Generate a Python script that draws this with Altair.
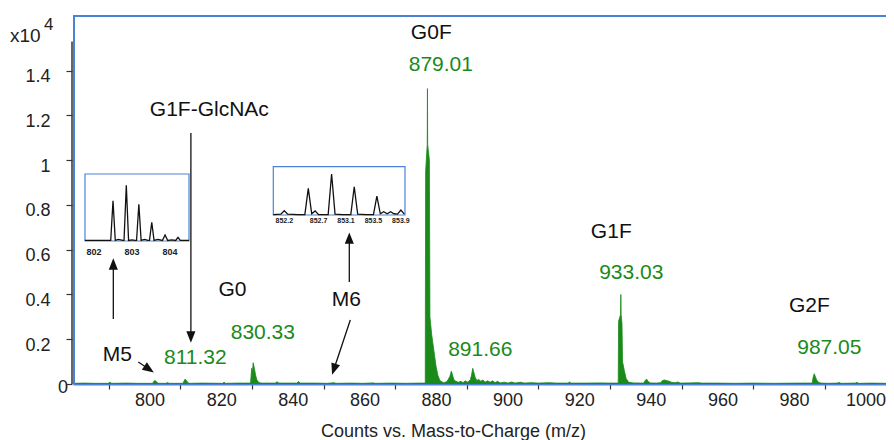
import altair as alt
import pandas as pd

# ---------------- data ----------------
mz = [780.0, 783.0, 786.0, 789.8, 790.3, 790.8, 795.0, 798.0, 802.3, 802.5, 802.84, 803.17, 803.5, 803.9,
      806.0, 806.4, 806.8, 810.7, 810.98, 811.32, 811.65, 812.0, 812.4, 816.0, 821.8, 822.2, 822.6, 826.0,
      829.6, 829.9, 830.1, 830.33, 830.66, 831.0, 831.33, 831.8, 832.5, 836.5, 837.0, 837.5, 842.5, 843.0,
      843.5, 848.0, 851.0, 853.0, 853.4, 858.0, 861.0, 864.0, 864.4, 869.0, 873.0, 876.5, 878.4, 878.5,
      878.95, 879.01, 879.07, 879.55, 879.7, 880.2, 880.8, 881.4, 881.9, 882.5, 883.5, 884.4, 884.8, 885.3,
      885.7, 886.0, 886.4, 886.9, 887.6, 888.4, 888.9, 889.6, 890.1, 890.6, 891.0, 891.33, 891.66, 892.0,
      892.33, 892.8, 893.4, 893.9, 894.5, 895.1, 895.8, 896.5, 897.2, 897.9, 898.6, 899.3, 900.5, 901.5,
      902.5, 903.5, 905.0, 906.0, 908.0, 910.0, 913.0, 915.0, 918.3, 918.7, 919.1, 923.0, 927.0, 930.0,
      932.3, 932.4, 932.95, 933.03, 933.1, 933.35, 933.5, 934.0, 934.5, 935.2, 936.5, 939.4, 939.8, 940.2,
      940.6, 941.2, 943.0, 944.2, 944.6, 945.2, 945.9, 946.6, 947.3, 948.2, 949.0, 949.6, 952.0, 955.0,
      955.5, 960.0, 965.0, 970.0, 976.0, 982.0, 986.5, 986.72, 987.05, 987.38, 987.72, 988.2, 988.9, 991.0,
      993.5, 994.0, 994.5, 998.5, 999.0, 999.5, 1003.0, 1007.1]
intensity = [0.003, 0.004, 0.003, 0.003, 0.008, 0.003, 0.004, 0.003, 0.003, 0.010, 0.016, 0.012, 0.007, 0.003,
             0.003, 0.007, 0.003, 0.003, 0.012, 0.022, 0.016, 0.008, 0.003, 0.004, 0.003, 0.008, 0.003, 0.004,
             0.004, 0.07, 0.05, 0.095, 0.07, 0.04, 0.02, 0.008, 0.004, 0.004, 0.010, 0.004, 0.004, 0.011,
             0.004, 0.004, 0.003, 0.006, 0.003, 0.004, 0.003, 0.005, 0.003, 0.004, 0.003, 0.004, 0.004, 0.95,
             1.07, 1.32, 1.07, 1.0, 0.30, 0.22, 0.15, 0.08, 0.04, 0.015, 0.006, 0.01, 0.02, 0.035,
             0.058, 0.04, 0.02, 0.012, 0.008, 0.012, 0.006, 0.014, 0.008, 0.012, 0.02, 0.04, 0.07, 0.05,
             0.03, 0.016, 0.02, 0.012, 0.018, 0.008, 0.014, 0.008, 0.014, 0.006, 0.012, 0.005, 0.008, 0.004,
             0.009, 0.004, 0.008, 0.004, 0.006, 0.004, 0.006, 0.004, 0.004, 0.009, 0.004, 0.004, 0.005, 0.004,
             0.004, 0.28, 0.31, 0.40, 0.31, 0.27, 0.10, 0.06, 0.025, 0.008, 0.005, 0.004, 0.015, 0.022,
             0.012, 0.005, 0.004, 0.006, 0.015, 0.018, 0.015, 0.012, 0.007, 0.006, 0.009, 0.004, 0.005, 0.006,
             0.004, 0.004, 0.003, 0.004, 0.003, 0.004, 0.004, 0.028, 0.046, 0.032, 0.018, 0.008, 0.004, 0.003,
             0.004, 0.007, 0.003, 0.004, 0.007, 0.003, 0.004, 0.003]

x_ticks = list(range(790, 1001, 10))
x_labels = [str(v) if v % 20 == 0 else "" for v in x_ticks]
y_ticks = [0.0, 0.1, 0.2, 0.3, 0.4, 0.5, 0.6, 0.7, 0.8, 0.9, 1.0, 1.1, 1.2, 1.3, 1.4, 1.5]

# inset M5 (m/z 802-804, relative intensity)
inset1_mz = [801.76, 802.30, 802.44, 802.50, 802.56, 802.64, 802.76, 802.79, 802.85, 802.91, 803.00, 803.08,
             803.12, 803.18, 803.24, 803.33, 803.42, 803.46, 803.52, 803.58, 803.68, 803.80, 803.87, 803.94,
             804.05, 804.15, 804.21, 804.27, 804.50]
inset1_int = [1, 1, 1, 72.4, 1, 3, 1, 1, 100, 1, 2, 1, 1, 65.9, 1, 3, 1, 1, 33.6, 1, 3, 1, 10.8, 1,
              2, 1, 6.6, 1, 1]
inset1_ticks = [802, 803, 804]

# inset M6
inset2_mz = [852.04, 852.15, 852.20, 852.25, 852.40, 852.50, 852.55, 852.60, 852.65, 852.70, 852.84, 852.89,
             852.94, 853.05, 853.17, 853.22, 853.27, 853.40, 853.50, 853.55, 853.60, 853.65, 853.70, 853.75,
             853.80, 853.85, 853.90, 853.95]
inset2_int = [1, 2, 10.5, 2, 1, 1, 65, 3, 10, 1, 1, 100, 2, 1, 1, 69, 2, 1, 1, 46, 3, 8, 3, 8,
              3, 2, 12, 2]
inset2_ticks = [852.2, 852.7, 853.1, 853.5, 853.9]

# annotations (m/z, intensity x1e4)
label_text = ["G0F", "879.01", "G1F-GlcNAc", "G1F", "933.03", "G2F", "987.05", "G0", "830.33",
              "M6", "M5", "811.32", "891.66"]
label_mz = [880.08, 882.74, 818.07, 930.36, 935.95, 985.67, 991.26, 824.55, 833.02,
            856.34, 792.4, 814.16, 893.77]
label_int = [1.568, 1.425, 1.224, 0.679, 0.496, 0.349, 0.161, 0.420, 0.230,
             0.375, 0.130, 0.116, 0.152]
label_green = [False, True, False, False, True, False, True, False, True,
               False, False, True, True]

arrow_mz = [812.93, 791.26, 857.18, 857.46, 798.24]
arrow_int = [1.1215, 0.290, 0.456, 0.286, 0.098]
arrow_mz2 = [812.93, 791.26, 857.18, 852.88, 801.26]
arrow_int2 = [0.210, 0.536, 0.652, 0.066, 0.066]
arrow_angle = [180, 0, 0, 198.4, 123.7]

# ---------------- styling ----------------
GREEN = "#1a8a1a"
BLUE = "#4a82d8"
FONT = "Liberation Sans"
W, H = 813, 369
PXU_X, PXU_Y = 3.58, 223.8
XDOM = [780.0, 780.0 + W / PXU_X]
YDOM = [0.0, H / PXU_Y]

xs = alt.Scale(domain=XDOM, nice=False, zero=False)
ys = alt.Scale(domain=YDOM, nice=False, zero=False)

one = pd.DataFrame({"k": [0]})
spec_df = pd.DataFrame({"mz": mz, "I": intensity})
lab_df = pd.DataFrame({"mz": label_mz, "I": label_int, "t": label_text,
                       "c": [GREEN if g else "#111111" for g in label_green]})
arr_df = pd.DataFrame({"mz": arrow_mz, "I": arrow_int, "mz2": arrow_mz2, "I2": arrow_int2,
                       "ang": arrow_angle})
head_df = pd.DataFrame({"mz": arrow_mz2, "I": arrow_int2, "ang": arrow_angle})
xlab_df = pd.DataFrame({"mz": x_ticks, "t": x_labels})

x_axis = alt.Axis(values=x_ticks, labels=False,
                  tickSize=5, tickColor="#333333", tickWidth=1.2,
                  domainColor=BLUE, domainWidth=2, grid=False,
                  title="Counts vs. Mass-to-Charge (m/z)", titleFont=FONT, titleFontSize=18,
                  titleFontWeight="normal", titleColor="#222222", titleX=380, titleY=52,
                  titleBaseline="alphabetic", titleAlign="center")
y_axis = alt.Axis(values=y_ticks,
                  labelExpr="(round(datum.value*10) % 2 == 0 && datum.value > 0) ? format(datum.value, '.1~f') : ''",
                  tickSize=6, tickColor="#333333", tickWidth=1.2, domain=False, offset=1,
                  labelFont=FONT, labelFontSize=18, labelColor="#222222", labelPadding=16,
                  labelOffset=6,
                  labelFlush=False, labelOverlap=False, grid=False, title=None)

area = alt.Chart(spec_df).mark_area(color=GREEN, opacity=1).encode(
    x=alt.X("mz:Q", scale=xs, axis=x_axis),
    y=alt.Y("I:Q", scale=ys, axis=y_axis),
)
line = alt.Chart(spec_df).mark_line(color=GREEN, strokeWidth=0.8).encode(
    x=alt.X("mz:Q", scale=xs), y=alt.Y("I:Q", scale=ys))

# x tick labels drawn through the x scale (the original prints them a little right of the ticks)
xlabels = alt.Chart(xlab_df).mark_text(font=FONT, fontSize=18, color="#222222", baseline="middle",
                                       align="center", dx=5.5).encode(
    x=alt.X("mz:Q", scale=xs), y=alt.value(H + 17), text="t:N")
zero_label = alt.Chart(pd.DataFrame({"I": [0.0], "t": ["0"]})).mark_text(
    font=FONT, fontSize=18, color="#222222", baseline="middle", align="center", dy=4).encode(
    x=alt.value(-10), y=alt.Y("I:Q", scale=ys), text="t:N")

frame_top = alt.Chart(one).mark_rule(color=BLUE, strokeWidth=2).encode(
    x=alt.value(0), x2=alt.value(W), y=alt.value(1))
frame_left = alt.Chart(one).mark_rule(color=BLUE, strokeWidth=2).encode(
    x=alt.value(1), y=alt.value(0), y2=alt.value(H))
yline = alt.Chart(pd.DataFrame({"I": [0.0], "I2": [1.53]})).mark_rule(
    color="#333333", strokeWidth=1.5).encode(
    x=alt.value(-1), y=alt.Y("I:Q", scale=ys), y2="I2:Q")

texts = alt.Chart(lab_df).mark_text(font=FONT, fontSize=21, baseline="middle", align="center").encode(
    x=alt.X("mz:Q", scale=xs), y=alt.Y("I:Q", scale=ys), text="t:N",
    color=alt.Color("c:N", scale=None))

shafts = alt.Chart(arr_df).mark_rule(color="#111111", strokeWidth=1.3).encode(
    x=alt.X("mz:Q", scale=xs), y=alt.Y("I:Q", scale=ys), x2="mz2:Q", y2="I2:Q")
heads = alt.Chart(head_df).mark_point(shape="M0,-1L0.8,1L-0.8,1Z", filled=True, color="#111111",
                                      size=130, opacity=1).encode(
    x=alt.X("mz:Q", scale=xs), y=alt.Y("I:Q", scale=ys), angle=alt.Angle("ang:Q", scale=None))

exp_base = alt.Chart(one).mark_text(font=FONT, fontSize=19, fontWeight="normal", align="left",
                                    baseline="alphabetic", color="#222222").encode(
    x=alt.value(-63), y=alt.value(27), text=alt.value("x10"))
exp_sup = alt.Chart(one).mark_text(font=FONT, fontSize=17, fontWeight="normal", align="left",
                                   baseline="alphabetic", color="#222222").encode(
    x=alt.value(-29), y=alt.value(15), text=alt.value("4"))

main = alt.layer(area, line, xlabels, zero_label, frame_top, frame_left, yline, shafts, heads, texts,
                 exp_base, exp_sup)


def inset(mzs, ints, ticks, dom, rng, ymax, yrng, ty, tsize):
    sx = alt.Scale(domain=dom, range=rng, nice=False, zero=False)
    sy = alt.Scale(domain=[0, ymax], range=yrng, nice=False, zero=False)
    df = pd.DataFrame({"mz": mzs, "I": ints})
    box = alt.Chart(pd.DataFrame({"a": [dom[0]], "b": [dom[1]], "c": [0], "d": [ymax]})).mark_rect(
        fill="white", stroke=BLUE, strokeWidth=1.2).encode(
        x=alt.X("a:Q", scale=sx, axis=None), x2="b:Q",
        y=alt.Y("c:Q", scale=sy, axis=None), y2="d:Q")
    ln = alt.Chart(df).mark_line(color="#111111", strokeWidth=1.3).encode(
        x=alt.X("mz:Q", scale=sx, axis=None), y=alt.Y("I:Q", scale=sy, axis=None))
    tk = alt.Chart(pd.DataFrame({"mz": ticks, "t": [str(t) for t in ticks]})).mark_text(
        font=FONT, fontSize=tsize, fontWeight="bold", color="#222222", baseline="middle").encode(
        x=alt.X("mz:Q", scale=sx, axis=None), y=alt.value(ty), text="t:N")
    return alt.layer(box, ln, tk)


inset1 = inset(inset1_mz, inset1_int, inset1_ticks, [801.763, 804.5], [12, 116], 120.3, [226, 159], 237, 9)
inset2 = inset(inset2_mz, inset2_int, inset2_ticks, [852.04, 853.96], [200.3, 332], 117.8, [200, 151.7], 206, 7)

chart = alt.layer(main, inset1, inset2).resolve_scale(
    x="independent", y="independent"
).properties(
    width=W, height=H,
    autosize=alt.AutoSizeParams(type="none"),
    padding={"left": 65, "top": 7, "right": 0, "bottom": 56},
).configure_view(stroke=None).configure(font=FONT)

chart.save("out.html", embed_options={"renderer": "svg", "actions": False})
